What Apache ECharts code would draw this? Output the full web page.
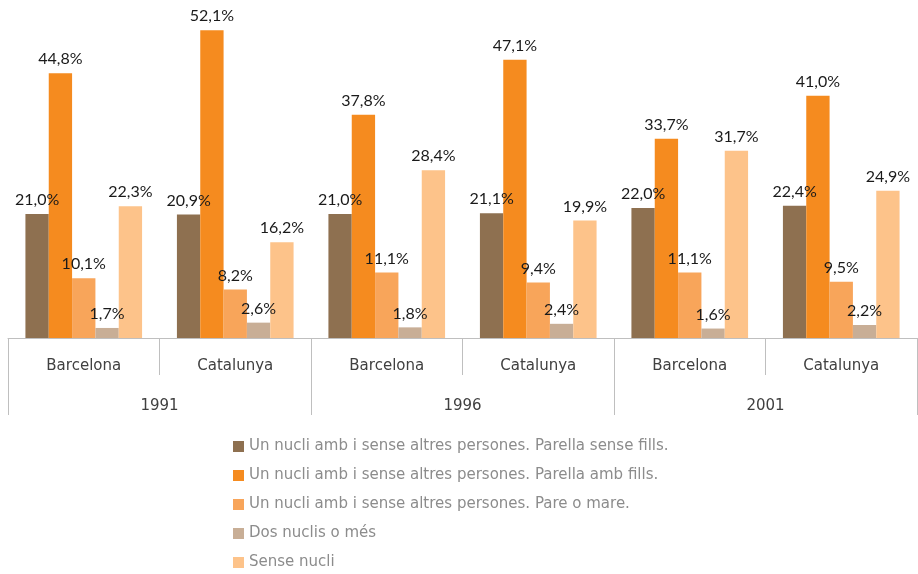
<!DOCTYPE html>
<html>
<head>
<meta charset="utf-8">
<script src="https://cdn.jsdelivr.net/npm/echarts@6/dist/echarts.min.js"></script>
<style>
  html, body { margin: 0; padding: 0; background: #fff; }
  #chart { width: 918px; height: 574px; }
</style>
</head>
<body>
<div id="chart"></div>
<script>
// Llars segons tipus de nucli (%)
const categories = ['Barcelona', 'Catalunya', 'Barcelona', 'Catalunya', 'Barcelona', 'Catalunya'];
const years = ['1991', '1996', '2001'];

const seriesNames = [
    'Un nucli amb i sense altres persones. Parella sense fills.',
    'Un nucli amb i sense altres persones. Parella amb fills.',
    'Un nucli amb i sense altres persones. Pare o mare.',
    'Dos nuclis o més',
    'Sense nucli'
];

const parellaSenseFills = [21.0, 20.9, 21.0, 21.1, 22.0, 22.4];
const parellaAmbFills = [44.8, 52.1, 37.8, 47.1, 33.7, 41.0];
const pareOMare = [10.1, 8.2, 11.1, 9.4, 11.1, 9.5];
const dosNuclis = [1.7, 2.6, 1.8, 2.4, 1.6, 2.2];
const senseNucli = [22.3, 16.2, 28.4, 19.9, 31.7, 24.9];

const colors = ['#8e7050', '#f58b1f', '#f8a55a', '#c8ae96', '#fdc38a'];

const chart = echarts.init(document.getElementById('chart'));

const allData = [parellaSenseFills, parellaAmbFills, pareOMare, dosNuclis, senseNucli];

const series = allData.map(function(d, i) {
    return {
        name: seriesNames[i],
        type: 'bar',
        data: d,
        barGap: 0,
        barCategoryGap: '23%',
        itemStyle: { color: colors[i] },
        label: {
            show: true,
            position: 'top',
            distance: 6,
            color: '#1a1a1a',
            fontSize: 16,
            fontFamily: 'Lato',
            formatter: function(p) {
                return p.value.toFixed(1).replace('.', ',') + '%';
            }
        }
    };
});

const option = {
    animation: false,
    textStyle: { fontFamily: 'DejaVu Sans' },
    grid: {
        left: 8,
        right: 1,
        top: 0,
        height: 338,
        containLabel: false
    },
    legend: {
        orient: 'vertical',
        left: 233,
        top: 439,
        height: 160,
        padding: 0,
        itemWidth: 11,
        itemHeight: 11,
        itemGap: 14,
        icon: 'rect',
        textStyle: {
            color: '#8c8c8c',
            fontSize: 15,
            fontFamily: 'DejaVu Sans'
        },
        data: seriesNames
    },
    xAxis: [
        {
            type: 'category',
            data: categories,
            axisLine: { lineStyle: { color: '#bfbfbf' } },
            axisTick: { show: true, length: 37, lineStyle: { color: '#bfbfbf' } },
            axisLabel: { margin: 21, color: '#404040', fontSize: 15, fontFamily: 'DejaVu Sans' }
        },
        {
            type: 'category',
            data: years,
            position: 'bottom',
            axisLine: { show: false },
            axisTick: { show: true, length: 77, lineStyle: { color: '#bfbfbf' } },
            axisLabel: { margin: 61, color: '#404040', fontSize: 15, fontFamily: 'DejaVu Sans' }
        }
    ],
    yAxis: {
        type: 'value',
        min: 0,
        max: 57.2,
        show: false,
        splitLine: { show: false }
    },
    series: series
};

chart.setOption(option);
</script>
</body>
</html>
